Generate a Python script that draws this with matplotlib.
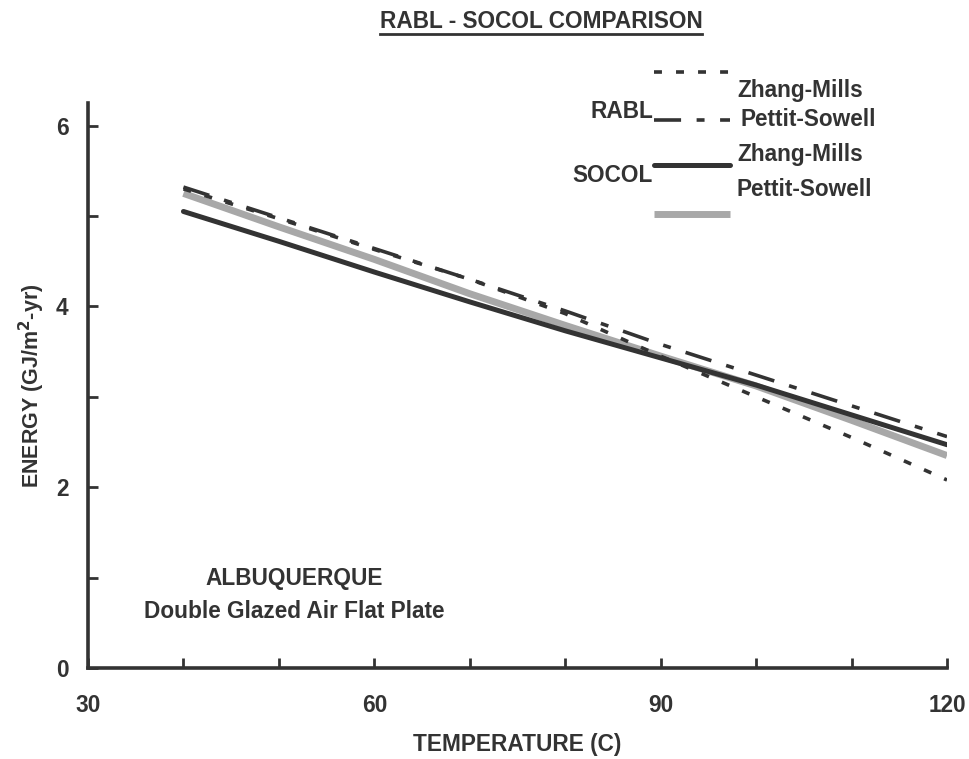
import matplotlib
matplotlib.use("Agg")
import matplotlib.pyplot as plt
from matplotlib.lines import Line2D

plt.rcParams['font.family'] = ['Liberation Sans', 'DejaVu Sans']
plt.rcParams['font.weight'] = 'bold'
plt.rcParams['axes.labelweight'] = 'bold'

temp = [40, 50, 60, 70, 80, 90, 100, 110, 120]
rabl_zm = [5.30, 4.97, 4.63, 4.30, 3.92, 3.45, 3.00, 2.55, 2.08]
rabl_ps = [5.32, 4.98, 4.64, 4.30, 3.95, 3.58, 3.24, 2.90, 2.56]
socol_zm = [5.05, 4.72, 4.38, 4.05, 3.73, 3.43, 3.13, 2.80, 2.47]
socol_ps = [5.25, 4.88, 4.52, 4.14, 3.79, 3.45, 3.12, 2.74, 2.35]

ink = '#333333'
gray = '#a8a8a8'
fs = 16.3

dot_lw, sol_lw, gray_lw = 2.6, 3.6, 5.0
dot_dash = (2.2, 3.9)
dashdot = (7.5, 4.3, 2.2, 4.3)

fig = plt.figure(figsize=(9.69, 7.59), dpi=100)
ax = fig.add_axes([88 / 969, 1 - 668 / 759, (947 - 88) / 969, (668 - 103) / 759])

ax.plot(temp, socol_ps, color=gray, lw=gray_lw, solid_capstyle='butt')
ax.plot(temp, socol_zm, color=ink, lw=sol_lw, solid_capstyle='round')
ax.plot(temp, rabl_ps, color=ink, lw=dot_lw, dashes=dashdot)
ax.plot(temp, rabl_zm, color=ink, lw=dot_lw, dashes=dot_dash)

ax.set_xlim(30, 120)
ax.set_ylim(0, 6.25)
ax.set_xticks([30, 60, 90, 120])
ax.set_xticks(range(30, 121, 10), minor=True)
ax.set_yticks([0, 2, 4, 6])
ax.set_yticks(range(0, 7), minor=True)
for s in ['top', 'right']:
    ax.spines[s].set_visible(False)
for s in ['left', 'bottom']:
    ax.spines[s].set_linewidth(2.6)
    ax.spines[s].set_color(ink)
ax.tick_params(which='both', direction='in', length=7, width=2, color=ink,
               labelsize=fs, labelcolor=ink)
ax.tick_params(axis='x', which='major', pad=19)
ax.tick_params(axis='y', which='major', pad=14)

ax.set_xlabel('TEMPERATURE (C)', fontsize=fs, color=ink, labelpad=11)
ax.set_ylabel('ENERGY (GJ/m$^2$-yr)', fontsize=15.5, color=ink, labelpad=6)

ax.text(51.6, 0.99, 'ALBUQUERQUE', ha='center', va='center',
        fontsize=fs, color=ink)
ax.text(51.6, 0.63, 'Double Glazed Air Flat Plate', ha='center',
        va='center', fontsize=fs, color=ink)

# title with underline
fig.text(541 / 969, 1 - 21 / 759, 'RABL - SOCOL COMPARISON', ha='center',
         va='center', fontsize=fs, color=ink)
fig.add_artist(Line2D([380 / 969, 702 / 969], [1 - 34 / 759, 1 - 34 / 759],
                      color=ink, lw=2))

# legend drawn by hand
def fx(px):
    return px / 969

def fy(py):
    return 1 - py / 759

x0, x1 = fx(654), fx(730)
fig.add_artist(Line2D([x0, x1], [fy(72), fy(72)], color=ink, lw=dot_lw, dashes=dot_dash))
fig.add_artist(Line2D([x0, x1], [fy(120), fy(120)], color=ink, lw=dot_lw, dashes=dashdot))
fig.add_artist(Line2D([x0, x1], [fy(165), fy(165)], color=ink, lw=sol_lw, solid_capstyle='round'))
fig.add_artist(Line2D([x0, x1], [fy(214), fy(214)], color=gray, lw=gray_lw, solid_capstyle='butt'))
fig.text(fx(737), fy(91), 'Zhang-Mills', va='center', fontsize=fs, color=ink)
fig.text(fx(740), fy(120), 'Pettit-Sowell', va='center', fontsize=fs, color=ink)
fig.text(fx(737), fy(155), 'Zhang-Mills', va='center', fontsize=fs, color=ink)
fig.text(fx(737), fy(189), 'Pettit-Sowell', va='center', fontsize=fs, color=ink)
fig.text(fx(653), fy(111), 'RABL', ha='right', va='center', fontsize=fs, color=ink)
fig.text(fx(653), fy(176), 'SOCOL', ha='right', va='center', fontsize=fs, color=ink)

fig.savefig('out.png', dpi=100)
